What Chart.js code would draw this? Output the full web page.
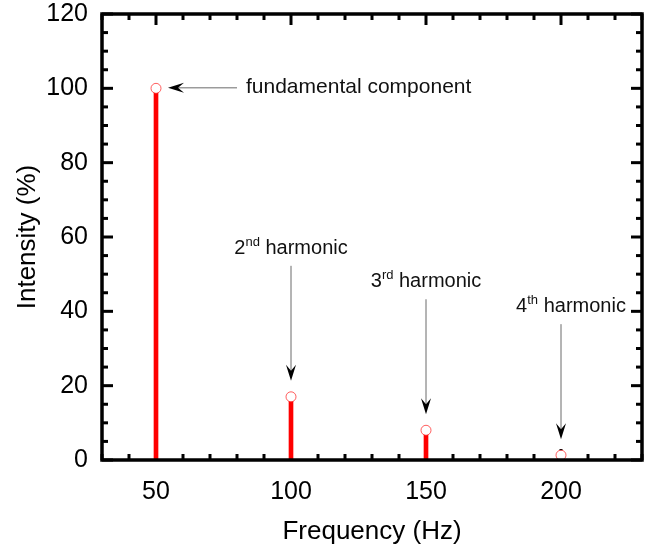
<!doctype html>
<html lang="en">
<head>
<meta charset="UTF-8" />
<title>Harmonic spectrum</title>
<style>
  html, body { margin: 0; padding: 0; background: #fff; }
  #wrap { width: 662px; height: 550px; }
</style>
</head>
<body>
<div id="wrap"><canvas id="spectrum"></canvas></div>

<script src="https://cdn.jsdelivr.net/npm/chart.js"></script>
<script>
  // spectrum peaks
  const frequencies = [50, 100, 150, 200];
  const intensities = [100, 17, 8, 1.3];
  // callout text for each peak: [normal, superscript, normal, ...]
  const peakLabels = [
    ["fundamental component"],
    ["2", "nd", " harmonic"],
    ["3", "rd", " harmonic"],
    ["4", "th", " harmonic"],
  ];
  const xTickLabels = [50, 100, 150, 200];
  const yTickLabels = [0, 20, 40, 60, 80, 100, 120];

  const FONT = "'Liberation Sans', Arial, sans-serif";
  const points = frequencies.map((f, i) => ({ x: f, y: intensities[i] }));

  function arrow(ctx, x1, y1, x2, y2) {
    const ang = Math.atan2(y2 - y1, x2 - x1);
    const L = 16, W = 5, N = 10;
    ctx.strokeStyle = "#6a6a6a";
    ctx.lineWidth = 1;
    ctx.beginPath();
    ctx.moveTo(x1, y1);
    ctx.lineTo(x2 - Math.cos(ang) * N, y2 - Math.sin(ang) * N);
    ctx.stroke();
    ctx.save();
    ctx.translate(x2, y2);
    ctx.rotate(ang);
    ctx.fillStyle = "#000";
    ctx.beginPath();
    ctx.moveTo(0, 0);
    ctx.lineTo(-L, -W);
    ctx.lineTo(-N, 0);
    ctx.lineTo(-L, W);
    ctx.closePath();
    ctx.fill();
    ctx.restore();
  }

  // text with alternating normal / superscript pieces, centred on cx
  function richText(ctx, parts, cx, baseY) {
    const fonts = parts.map((p, i) => (i % 2 ? "13px " : "20px ") + FONT);
    const widths = parts.map((p, i) => { ctx.font = fonts[i]; return ctx.measureText(p).width; });
    let x = cx - widths.reduce((a, b) => a + b, 0) / 2;
    ctx.textAlign = "left";
    ctx.textBaseline = "alphabetic";
    parts.forEach((p, i) => {
      ctx.font = fonts[i];
      ctx.fillText(p, x, i % 2 ? baseY - 8 : baseY);
      x += widths[i];
    });
  }

  const framePlugin = {
    id: "frame",
    // inward ticks on all four sides, under the stems
    beforeDatasetsDraw(chart) {
      const { ctx, chartArea: a, scales: { x, y } } = chart;
      ctx.save();
      ctx.strokeStyle = "#000";
      ctx.lineWidth = 3;
      const seg = (x1, y1, x2, y2) => { ctx.beginPath(); ctx.moveTo(x1, y1); ctx.lineTo(x2, y2); ctx.stroke(); };
      x.ticks.forEach(t => {
        const px = x.getPixelForValue(t.value);
        const len = xTickLabels.includes(t.value) ? 11 : 6;
        seg(px, a.bottom, px, a.bottom - len);
        seg(px, a.top, px, a.top + len);
      });
      y.ticks.forEach(t => {
        const py = y.getPixelForValue(t.value);
        const len = yTickLabels.includes(t.value) ? 11 : 6;
        seg(a.left, py, a.left + len, py);
        seg(a.right, py, a.right - len, py);
      });
      ctx.restore();
    },
    afterDraw(chart) {
      const { ctx, chartArea: a, scales: { x, y } } = chart;
      ctx.save();
      ctx.strokeStyle = "#000";
      ctx.lineWidth = 3.5;
      ctx.strokeRect(a.left, a.top, a.right - a.left, a.bottom - a.top);

      // callouts
      const shiftX = [0, 0, 0, 10];
      points.forEach((p, i) => {
        const px = x.getPixelForValue(p.x);
        const py = y.getPixelForValue(p.y);
        if (i === 0) {
          arrow(ctx, px + 81, py - 0.5, px + 12, py - 0.5);
          ctx.fillStyle = "#111";
          ctx.font = "21px " + FONT;
          ctx.textAlign = "left";
          ctx.textBaseline = "middle";
          ctx.fillText(peakLabels[i][0], px + 90, py - 1);
        } else {
          const tip = py - 16;
          const tail = tip - 115;
          arrow(ctx, px, tail, px, tip);
          ctx.fillStyle = "#111";
          richText(ctx, peakLabels[i], px + shiftX[i], tail - 12);
        }
      });
      ctx.restore();
    },
  };

  const tickFont = { family: FONT, size: 25 };
  const titleFont = { family: FONT, size: 26 };

  new Chart(document.getElementById("spectrum"), {
    type: "bar",
    data: {
      datasets: [
        {
          type: "scatter",
          data: points,
          pointStyle: "circle",
          pointRadius: 5,
          pointHoverRadius: 5,
          borderWidth: 1,
          borderColor: "rgba(255, 40, 40, 0.75)",
          backgroundColor: "#fff",
          order: 0,
        },
        {
          type: "bar",
          data: points,
          backgroundColor: "#ff0000",
          barThickness: 4,
          order: 1,
        },
      ],
    },
    plugins: [framePlugin],
    options: {
      responsive: true,
      maintainAspectRatio: false,
      animation: false,
      layout: { padding: { top: 14, right: 20, left: 0, bottom: 0 } },
      plugins: { legend: { display: false }, tooltip: { enabled: false } },
      scales: {
        x: {
          type: "linear",
          min: 30,
          max: 230,
          offset: false,
          grid: { display: false, drawTicks: false },
          border: { display: false },
          ticks: {
            stepSize: 10,
            autoSkip: false,
            maxRotation: 0,
            padding: 17,
            color: "#000",
            font: tickFont,
            callback: v => (xTickLabels.includes(v) ? String(v) : ""),
          },
          title: { display: true, text: "Frequency (Hz)", color: "#000", font: titleFont, padding: { bottom: 3 } },
          afterFit: s => { s.height = 90; s.paddingLeft = 0; s.paddingRight = 0; },
        },
        y: {
          min: 0,
          max: 120,
          grid: { display: false, drawTicks: false },
          border: { display: false },
          ticks: {
            stepSize: 5,
            autoSkip: false,
            padding: 14,
            color: "#000",
            font: tickFont,
            callback: v => (yTickLabels.includes(v) ? String(v) : ""),
          },
          title: { display: true, text: "Intensity (%)", color: "#000", font: titleFont, padding: { top: 12 } },
          afterFit: s => { s.width = 102; s.paddingTop = 0; s.paddingBottom = 0; },
        },
      },
    },
  });
</script>
</body>
</html>
